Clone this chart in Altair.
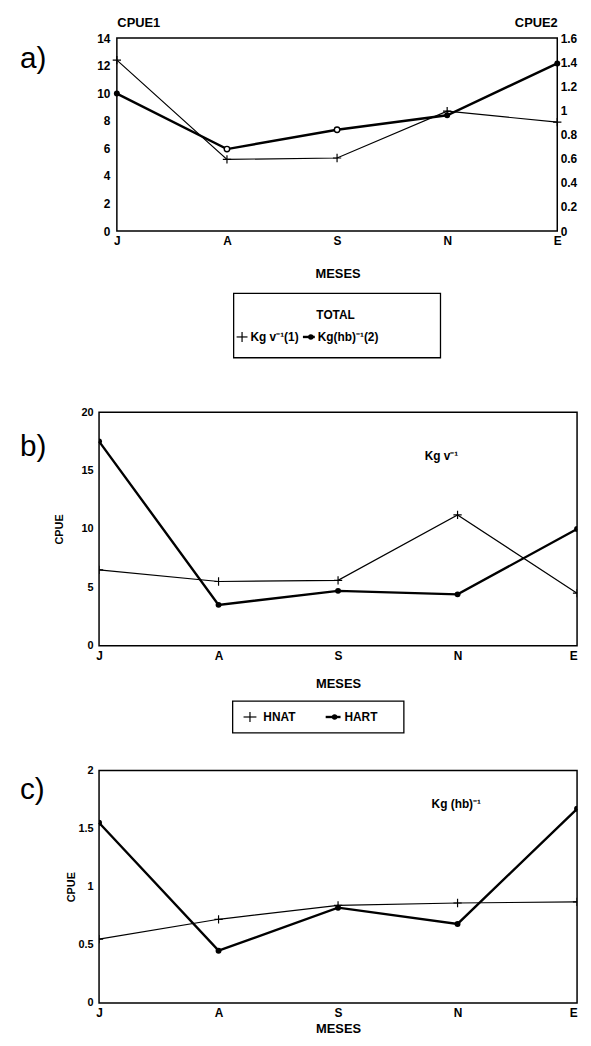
import json
import altair as alt
import pandas as pd

# ---------------- data ----------------
months = ["J", "A", "S", "N", "E"]

# a) TOTAL
a_kg_v = [12.4, 5.2, 5.3, 8.7, 7.9]          # Kg v^-1 (1)  -> CPUE1 (left axis)
a_kg_hb = [1.14, 0.68, 0.84, 0.96, 1.39]     # Kg(hb)^-1 (2) -> CPUE2 (right axis)
a_open_markers = ["A", "S"]                  # months drawn with open markers

# b) Kg v^-1
b_hnat = [6.5, 5.5, 5.6, 11.2, 4.5]
b_hart = [17.5, 3.5, 4.7, 4.4, 10.0]

# c) Kg (hb)^-1
c_hnat = [0.55, 0.72, 0.84, 0.86, 0.87]
c_hart = [1.55, 0.45, 0.82, 0.68, 1.67]

a_left_ticks = [0, 2, 4, 6, 8, 10, 12, 14]
a_right_ticks = [0, 0.2, 0.4, 0.6, 0.8, 1, 1.2, 1.4, 1.6]
b_ticks = [0, 5, 10, 15, 20]
c_ticks = [0, 0.5, 1, 1.5, 2]

# ---------------- styling ----------------
FONT = "Liberation Sans"
PLUS = "M-1,0H1M0,-1V1"
THIN = 1.2
THICK = 2.4
ONE = alt.Data(values=[{"k": 0}])


def xenc(title_y, rng=None, title_x=None, last_right=False):
    sc = alt.Scale(type="point", padding=0, domain=months)
    if rng is not None:
        sc = alt.Scale(type="point", padding=0, domain=months, range=rng)
    ax = dict(
        title="MESES", titleFont=FONT, titleFontSize=13, titleFontWeight="bold",
        titleY=title_y, titleBaseline="middle",
        labelFont=FONT, labelFontSize=12, labelFontWeight="bold", labelAngle=0,
        labelPadding=5, ticks=False, domain=False, grid=False,
    )
    if last_right:
        ax["labelAlign"] = {"condition": {"test": f"datum.label == '{months[-1]}'",
                                          "value": "right"}, "value": "center"}
    if title_x is not None:
        ax["titleX"] = title_x
    return alt.X("mes:N", sort=months, scale=sc, axis=alt.Axis(**ax))


def txt(s, x, y, size=12, weight="bold", align="left", baseline="middle", font=FONT):
    return alt.Chart(ONE).mark_text(
        text=s, fontSize=size, fontWeight=weight, align=align, baseline=baseline,
        font=font, color="black",
    ).encode(x=alt.value(x), y=alt.value(y))


def rule(x, y, x2, y2, w=1.2, op=1):
    return alt.Chart(ONE).mark_rule(color="black", strokeWidth=w, strokeOpacity=op).encode(
        x=alt.value(x), y=alt.value(y), x2=alt.value(x2), y2=alt.value(y2)
    )


def bound(x, y1, y2):
    # invisible spacer fixing the panel's extent inside the stacked layout
    return rule(x, y1, x + 40, y2, w=1, op=0)


def box(x, y, x2, y2, w=1.3):
    return alt.Chart(ONE).mark_rect(fillOpacity=0, stroke="black", strokeWidth=w).encode(
        x=alt.value(x), y=alt.value(y), x2=alt.value(x2), y2=alt.value(y2)
    )


def sym(x, y, shape, size):
    return alt.Chart(ONE).mark_point(shape=shape, size=size, filled=True, color="black",
                                     opacity=1).encode(x=alt.value(x), y=alt.value(y))


def series_df(vals):
    return pd.DataFrame({"mes": months, "v": vals})


# ---------------- panel a ----------------
SH = 18
WA, HA = 463, 195
dfa1 = series_df(a_kg_v)
dfa2 = series_df(a_kg_hb)
xa = xenc(43, rng=[SH, WA], title_x=SH + 223)

ya = alt.Y("v:Q", scale=alt.Scale(domain=[0, 14]),
           axis=alt.Axis(values=a_left_ticks, format="~g", ticks=False, domain=False, grid=False,
                         offset=-SH,
                         labelFont=FONT, labelFontSize=12, labelFontWeight="bold", labelPadding=7,
                         title="CPUE1", titleAngle=0, titleX=0, titleY=-12, titleAlign="left",
                         titleBaseline="alphabetic", titleFont=FONT, titleFontSize=13,
                         titleFontWeight="bold"))
yb = alt.Y("v:Q", scale=alt.Scale(domain=[0, 1.6]),
           axis=alt.Axis(orient="right", values=a_right_ticks, format="~g", ticks=False,
                         domain=False, grid=False, labelFont=FONT, labelFontSize=12,
                         labelFontWeight="bold", labelPadding=3,
                         title="CPUE2", titleAngle=0, titleX=0, titleY=-12, titleAlign="right",
                         titleBaseline="alphabetic", titleFont=FONT, titleFontSize=13,
                         titleFontWeight="bold"))

left_a = alt.layer(
    alt.Chart(dfa1).mark_line(color="black", strokeWidth=THIN).encode(x=xa, y=ya),
    alt.Chart(dfa1).mark_point(shape=PLUS, size=70, filled=False, color="black", opacity=1,
                               strokeWidth=THIN).encode(x=xa, y=ya),
)
open_expr = f"indexof({json.dumps(a_open_markers)}, datum.mes) >= 0"
right_a = alt.layer(
    alt.Chart(dfa2).mark_line(color="black", strokeWidth=THICK).encode(x=xa, y=yb),
    alt.Chart(dfa2).transform_filter(f"!({open_expr})").mark_point(
        shape="circle", size=36, filled=True, color="black", opacity=1).encode(x=xa, y=yb),
    alt.Chart(dfa2).transform_filter(open_expr).mark_point(
        shape="circle", size=30, filled=True, fill="white", stroke="black", strokeWidth=1.4,
        opacity=1).encode(x=xa, y=yb),
)

extras_a = [
    box(SH, 0, WA, HA, w=1.5),
    bound(-91, -24, 348),
    txt("a)", SH - 98, 30, size=30, weight="normal", baseline="alphabetic"),
    box(SH + 118, 258, SH + 327, 323),
    txt("TOTAL", SH + 221, 280, size=12, align="center"),
    rule(SH + 121, 302, SH + 132, 302, w=THIN),
    rule(SH + 126.5, 297, SH + 126.5, 307, w=THIN),
    txt("Kg v\u207b\u00b9(1)", SH + 135, 302, size=12),
    rule(SH + 188, 302, SH + 200, 302, w=THICK),
    sym(SH + 196, 302, "circle", 30),
    txt("Kg(hb)\u207b\u00b9(2)", SH + 203, 302, size=12),
]

panel_a = alt.layer(left_a, right_a, *extras_a).resolve_scale(y="independent").properties(
    width=WA, height=HA, view=alt.ViewBackground(stroke="transparent"))


# ---------------- panels b and c ----------------
def panel(hnat, hart, dom, ticks, W, H, title_x, mes_y, extras):
    d1 = series_df(hnat)
    d2 = series_df(hart)
    y = alt.Y("v:Q", scale=alt.Scale(domain=dom),
              axis=alt.Axis(values=ticks, format="~g", ticks=False, domain=False, grid=False,
                            labelFont=FONT, labelFontSize=11, labelFontWeight="bold",
                            labelPadding=6, title="CPUE", titleX=title_x,
                            titleBaseline="middle", titleFont=FONT, titleFontSize=11,
                            titleFontWeight="bold"))
    x = xenc(mes_y, last_right=True)
    layers = [
        alt.Chart(d1).mark_line(color="black", strokeWidth=THIN).encode(x=x, y=y),
        alt.Chart(d1).mark_point(shape=PLUS, size=70, filled=False, color="black", opacity=1,
                                 strokeWidth=THIN, clip=True).encode(x=x, y=y),
        alt.Chart(d2).mark_line(color="black", strokeWidth=THICK).encode(x=x, y=y),
        alt.Chart(d2).mark_point(shape="circle", size=36, filled=True, color="black",
                                 opacity=1, clip=True).encode(x=x, y=y),
    ]
    return alt.layer(*layers, *extras).properties(width=W, height=H)


WB, HB = 483, 236
extras_b = [
    bound(-91, -28, 337),
    txt("b)", -80, 44, size=30, weight="normal", baseline="alphabetic"),
    txt("Kg v\u207b\u00b9", 329, 44, size=12),
    box(135, 292, 308, 324),
    rule(146, 308, 159, 308, w=THIN),
    rule(152.5, 303, 152.5, 313, w=THIN),
    txt("HNAT", 166, 308, size=12),
    rule(229, 308, 244, 308, w=THICK),
    sym(238, 308, "circle", 30),
    txt("HART", 248, 308, size=12),
]
panel_b = panel(b_hnat, b_hart, [0, 20], b_ticks, WB, HB, -40, 38, extras_b)

WC, HC = 483, 235
extras_c = [
    bound(-91, -23, 266),
    txt("c)", -80, 29, size=30, weight="normal", baseline="alphabetic"),
    txt("Kg (hb)\u207b\u00b9", 336, 34, size=12),
]
panel_c = panel(c_hnat, c_hart, [0, 2], c_ticks, WC, HC, -28, 26, extras_c)

chart = alt.ConcatChart(
    concat=[panel_a, panel_b, panel_c], columns=1, align="none", bounds="full", spacing=0
).properties(padding=0).configure_view(stroke="black", strokeWidth=1.5)

chart.save("out.html", embed_options={"renderer": "svg", "actions": False})
